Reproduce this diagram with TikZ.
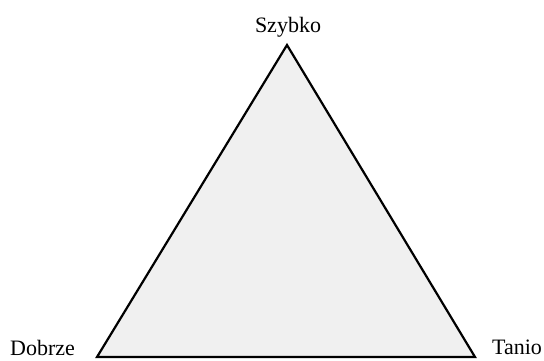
\documentclass[tikz,border=0pt]{standalone}
\usepackage{fontspec}
\setmainfont{Liberation Serif}

\begin{document}
\begin{tikzpicture}[x=1pt,y=-1pt,
    label/.style={font=\fontsize{22}{26}\selectfont, inner sep=0pt, anchor=base}]
  \useasboundingbox (0,0) rectangle (544,360);
  \coordinate (top)   at (287,45);
  \coordinate (left)  at (97,357);
  \coordinate (right) at (475,357);
  \filldraw[fill=black!6, line width=2.2pt, line join=miter]
    (top) -- (left) -- (right) -- cycle;
  \node[label] (szybko) at (288,32)  {Szybko};
  \node[label] (dobrze) at (42.5,355) {Dobrze};
  \node[label] (tanio)  at (517,354.5) {Tanio};
\end{tikzpicture}
\end{document}
